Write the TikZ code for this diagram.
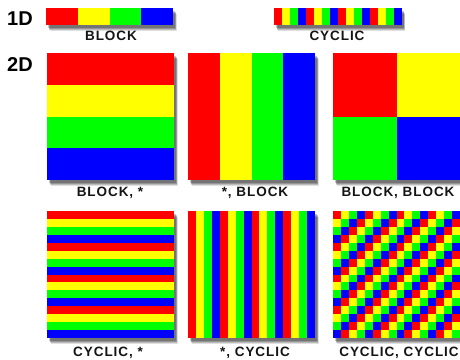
\documentclass[tikz,border=0pt]{standalone}
\usepackage{fontspec}
\newfontfamily\labfont[LetterSpace=7]{Liberation Sans}
\newfontfamily\dimfont{Liberation Sans}
\definecolor{c0}{RGB}{255,0,0}
\definecolor{c1}{RGB}{255,255,0}
\definecolor{c2}{RGB}{0,255,0}
\definecolor{c3}{RGB}{0,0,255}
\newcommand\pshadow[4]{%
  \foreach \dx/\dy/\o in {3.5/5.5/0.12,3/4.5/0.16,2.5/3.5/0.2,2/2.5/0.22}{%
    \fill[black,opacity=\o] (#1+\dx,#2+\dy) rectangle (#3+\dx,#4+\dy);}}
\begin{document}
\begin{tikzpicture}[x=1pt,y=-1pt,
  lab/.style={font=\labfont\bfseries\fontsize{13.5}{15}\selectfont, anchor=base, inner sep=0pt, text=black!92},
  dimlab/.style={font=\dimfont\bfseries\fontsize{20}{22}\selectfont, anchor=base, inner sep=0pt, text=black}]
\useasboundingbox (0,0) rectangle (460,359);
\fill[white] (0,0) rectangle (460,359);
% ---------- 1D ----------
\node[dimlab] (oneD) at (20,25) {1D};
\pshadow{46}{8}{173}{25}
\foreach \k in {0,...,3}
  \fill[c\k] (46+\k*31.75,8) rectangle (46+\k*31.75+31.75,25);
\node[lab] (lblock) at (111,40.7) {BLOCK};
\pshadow{274}{8}{401.5}{25}
\foreach \i in {0,...,15}{%
  \pgfmathtruncatemacro\k{mod(\i,4)}
  \fill[c\k] (274+\i*7.97,8) rectangle (274+\i*7.97+7.97,25);}
\node[lab] (lcyclic) at (337,40.7) {CYCLIC};
% ---------- 2D ----------
\node[dimlab] (twoD) at (20,71) {2D};
% row 1
\pshadow{47}{53}{174}{180}
\foreach \k in {0,...,3}
  \fill[c\k] (47,53+\k*31.75) rectangle (174,53+\k*31.75+31.75);
\node[lab] (lbs) at (110,196.5) {BLOCK, *};
\pshadow{188}{53}{315}{180}
\foreach \k in {0,...,3}
  \fill[c\k] (188+\k*31.75,53) rectangle (188+\k*31.75+31.75,180);
\node[lab] (lsb) at (255,196.5) {*, BLOCK};
\pshadow{333}{53}{460}{180}
\fill[c0] (333,53) rectangle (396.5,116.5);
\fill[c1] (396.5,53) rectangle (460,116.5);
\fill[c2] (333,116.5) rectangle (396.5,180);
\fill[c3] (396.5,116.5) rectangle (460,180);
\node[lab] (lbb) at (398,196.5) {BLOCK, BLOCK};
% row 2
\pshadow{47}{211}{174}{338}
\foreach \i in {0,...,15}{%
  \pgfmathtruncatemacro\k{mod(\i,4)}
  \fill[c\k] (47,211+\i*7.9375) rectangle (174,211+\i*7.9375+7.9375);}
\node[lab] (lcs) at (108,356.5) {CYCLIC, *};
\pshadow{188}{211}{315}{338}
\foreach \i in {0,...,15}{%
  \pgfmathtruncatemacro\k{mod(\i,4)}
  \fill[c\k] (188+\i*7.9375,211) rectangle (188+\i*7.9375+7.9375,338);}
\node[lab] (lsc) at (255,356.5) {*, CYCLIC};
\pshadow{333}{211}{460}{338}
\foreach \i in {0,...,15}{%
  \foreach \j in {0,...,15}{%
    \pgfmathtruncatemacro\k{mod(\i+\j,4)}
    \fill[c\k] (333+\i*7.9375,211+\j*7.9375) rectangle (333+\i*7.9375+7.9375,211+\j*7.9375+7.9375);}}
\node[lab] (lcc) at (399,356.5) {CYCLIC, CYCLIC};
\end{tikzpicture}
\end{document}
